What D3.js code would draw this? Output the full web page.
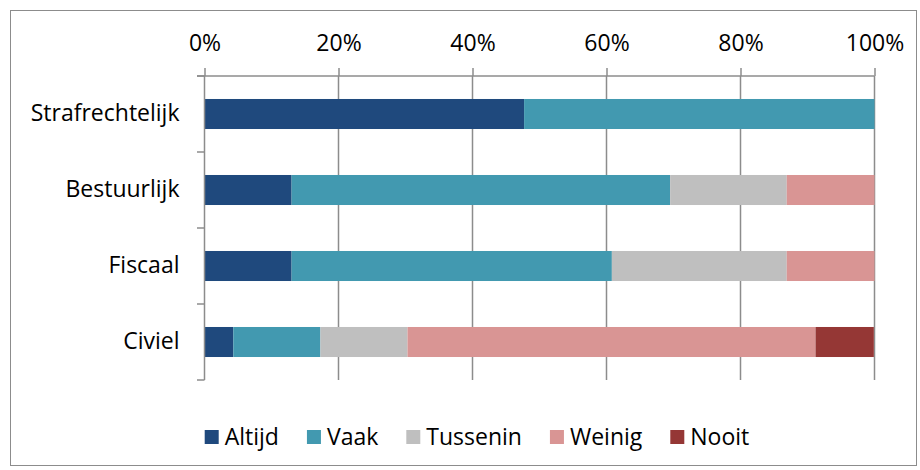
<!DOCTYPE html>
<html>
<head>
<meta charset="utf-8">
<script src="https://d3js.org/d3.v7.min.js"></script>
<style>
  body { margin: 0; background: #fff; }
  text { font-family: "Open Sans", sans-serif; fill: #000; }
</style>
</head>
<body>
<svg width="920" height="470"></svg>
<script>
var categories = ["Strafrechtelijk", "Bestuurlijk", "Fiscaal", "Civiel"];
var series = ["Altijd", "Vaak", "Tussenin", "Weinig", "Nooit"];
var colors = ["#1f497d", "#4299b0", "#bfbfbf", "#d99594", "#953735"];
// percentage per category, in series order
var altijd   = [47.7, 13.0, 13.0, 4.3];
var vaak     = [52.3, 56.5, 47.8, 13.0];
var tussenin = [0, 17.4, 26.1, 13.0];
var weinig   = [0, 13.1, 13.1, 60.9];
var nooit    = [0, 0, 0, 8.7];
var ticks = [0, 20, 40, 60, 80, 100];

var FONT = "'Open Sans', sans-serif";
var FS = 23;

var rows = categories.map(function(c, i) {
  return { cat: c, Altijd: altijd[i], Vaak: vaak[i], Tussenin: tussenin[i], Weinig: weinig[i], Nooit: nooit[i] };
});

var svg = d3.select("svg");

svg.append("rect")
   .attr("x", 10.5).attr("y", 10.5)
   .attr("width", 906).attr("height", 455)
   .attr("fill", "none").attr("stroke", "#8c8c8c").attr("stroke-width", 1);

var x = d3.scaleLinear().domain([0, 100]).range([204.5, 874.5]);
var y = d3.scaleBand().domain(categories).range([76, 380]).paddingInner(0.605).paddingOuter(0.3025);

var stack = d3.stack().keys(series)(rows);

// gridlines
svg.append("g").selectAll("line")
   .data(ticks.slice(1))
   .enter().append("line")
   .attr("x1", function(d) { return x(d); })
   .attr("x2", function(d) { return x(d); })
   .attr("y1", 76).attr("y2", 380)
   .attr("stroke", "#8c8c8c").attr("stroke-width", 1.5);

// bars
svg.append("g").selectAll("g")
   .data(stack)
   .enter().append("g")
   .attr("fill", function(d, i) { return colors[i]; })
   .selectAll("rect")
   .data(function(d) { return d; })
   .enter().append("rect")
   .attr("x", function(d) { return x(d[0]); })
   .attr("width", function(d) { return x(d[1]) - x(d[0]); })
   .attr("y", function(d) { return y(d.data.cat); })
   .attr("height", y.bandwidth());

// top axis
var xAxis = d3.axisTop(x).tickValues(ticks)
              .tickFormat(function(d) { return d + "%"; })
              .tickSize(8).tickPadding(17);
var gx = svg.append("g").attr("transform", "translate(0,76)").call(xAxis);
gx.select(".domain").attr("stroke", "#8c8c8c").attr("stroke-width", 1.5).attr("d", "M197,0H874.5");
gx.selectAll(".tick line").attr("stroke", "#8c8c8c").attr("stroke-width", 1.5);
gx.selectAll(".tick text").attr("font-size", FS).attr("font-family", FONT).attr("fill", "#000");

// left axis
var yAxis = d3.axisLeft(y).tickSize(0).tickPadding(25);
var gy = svg.append("g").attr("transform", "translate(204.5,0)").call(yAxis);
gy.select(".domain").attr("stroke", "#8c8c8c").attr("stroke-width", 1.5).attr("d", "M0,76V380");
gy.selectAll(".tick text").attr("font-size", FS).attr("font-family", FONT).attr("fill", "#000");

// category separator ticks
svg.append("g").selectAll("line")
   .data(d3.range(categories.length + 1))
   .enter().append("line")
   .attr("x1", 197).attr("x2", 204.5)
   .attr("y1", function(d) { return 76 + d * y.step(); })
   .attr("y2", function(d) { return 76 + d * y.step(); })
   .attr("stroke", "#8c8c8c").attr("stroke-width", 1.5);

// legend
var legend = svg.append("g");
var items = legend.selectAll("g").data(series).enter().append("g");
items.append("rect").attr("width", 14).attr("height", 14).attr("y", -7)
     .attr("fill", function(d, i) { return colors[i]; });
items.append("text").attr("x", 20).attr("dy", "0.35em").attr("font-size", FS).text(function(d) { return d; });

var gap = 28;
var pos = 0, offsets = [];
items.each(function() {
  offsets.push(pos);
  pos += 20 + d3.select(this).select("text").node().getComputedTextLength() + gap;
});
var total = pos - gap;
var start = 477 - total / 2;
items.attr("transform", function(d, i) { return "translate(" + (start + offsets[i]) + ",437)"; });
</script>
</body>
</html>
